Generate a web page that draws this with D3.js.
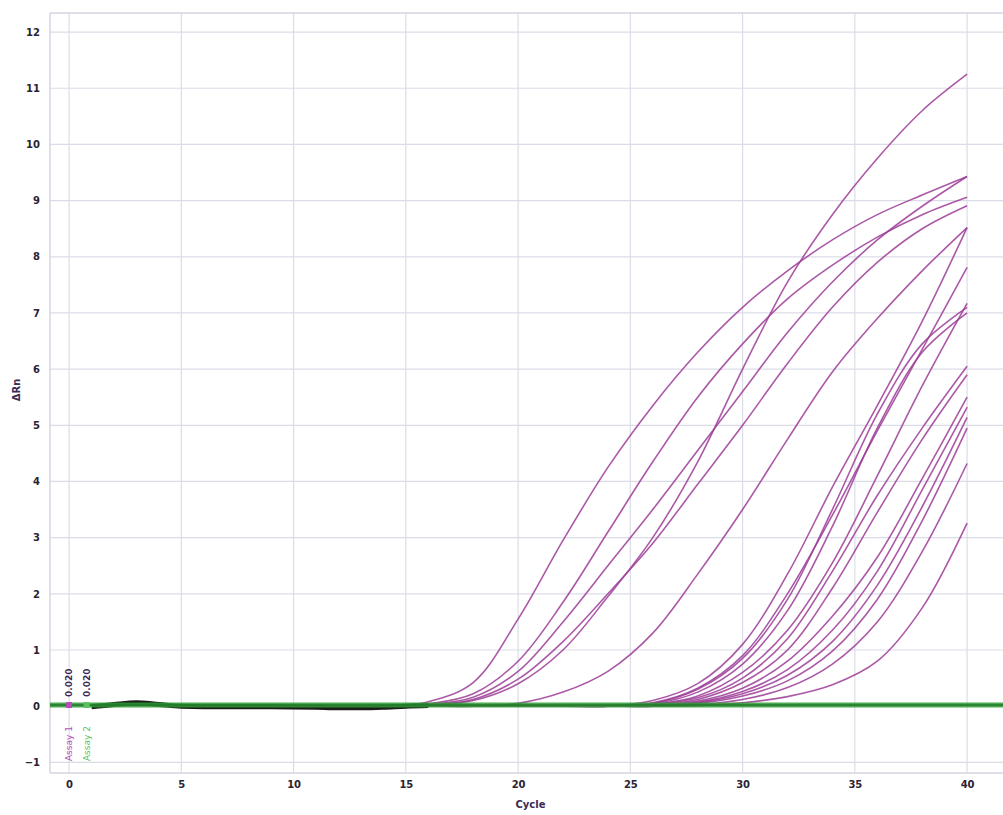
<!DOCTYPE html>
<html>
<head>
<meta charset="utf-8">
<script src="https://cdn.jsdelivr.net/npm/d3@7"></script>
<style>
  body { margin: 0; background: #fff; }
  svg { display: block; }
  .tick text { font-family: "DejaVu Sans", sans-serif; font-size: 10px; font-weight: bold; fill: #2b2233; }
</style>
</head>
<body>
<script>
var rampCycles = [14, 16, 18, 20, 22, 24, 26, 28, 30, 32, 34, 36, 38, 40];

// early risers
var e1  = [0, 0.08, 0.42, 1.55, 2.95, 4.25, 5.35, 6.3, 7.1, 7.75, 8.3, 8.75, 9.1, 9.43];
var e2  = [0, 0.04, 0.22, 0.8, 1.85, 3.1, 4.35, 5.5, 6.45, 7.25, 7.85, 8.35, 8.75, 9.06];
var e3  = [0, 0.03, 0.16, 0.62, 1.5, 2.5, 3.5, 4.55, 5.6, 6.65, 7.55, 8.3, 8.9, 9.43];
var e4  = [0, 0.02, 0.1, 0.4, 1.0, 1.95, 3.0, 4.35, 6.0, 7.55, 8.75, 9.75, 10.6, 11.25];
var e5  = [0, 0.02, 0.12, 0.48, 1.15, 2.0, 2.9, 3.95, 5.0, 6.1, 7.1, 7.9, 8.5, 8.91];
var e6  = [0, 0, 0, 0.05, 0.25, 0.62, 1.3, 2.35, 3.5, 4.75, 5.95, 6.9, 7.75, 8.52];
// late risers
var l1  = [0, 0, 0, 0, 0, 0, 0.1, 0.4, 1.1, 2.35, 3.9, 5.35, 6.85, 8.52];
var l2  = [0, 0, 0, 0, 0, 0, 0.06, 0.32, 0.9, 2.0, 3.4, 4.9, 6.35, 7.81];
var l3  = [0, 0, 0, 0, 0, 0, 0.05, 0.3, 0.85, 1.9, 3.5, 5.2, 6.45, 7.1];
var l4  = [0, 0, 0, 0, 0, 0, 0.04, 0.25, 0.75, 1.7, 3.2, 4.95, 6.3, 7.0];
var l5  = [0, 0, 0, 0, 0, 0, 0.03, 0.18, 0.6, 1.35, 2.55, 4.1, 5.7, 7.17];
var l6  = [0, 0, 0, 0, 0, 0, 0.03, 0.15, 0.5, 1.2, 2.4, 3.75, 4.95, 6.05];
var l7  = [0, 0, 0, 0, 0, 0, 0.02, 0.12, 0.42, 1.0, 2.1, 3.45, 4.75, 5.9];
var l8  = [0, 0, 0, 0, 0, 0, 0.01, 0.09, 0.32, 0.8, 1.6, 2.65, 4.05, 5.5];
var l9  = [0, 0, 0, 0, 0, 0, 0.01, 0.07, 0.26, 0.65, 1.35, 2.4, 3.85, 5.32];
var l10 = [0, 0, 0, 0, 0, 0, 0, 0.06, 0.22, 0.55, 1.15, 2.15, 3.55, 5.14];
var l11 = [0, 0, 0, 0, 0, 0, 0, 0.05, 0.18, 0.45, 0.98, 1.9, 3.3, 4.95];
var l12 = [0, 0, 0, 0, 0, 0, 0, 0.03, 0.12, 0.33, 0.75, 1.5, 2.75, 4.32];
var l13 = [0, 0, 0, 0, 0, 0, 0, 0.01, 0.06, 0.17, 0.38, 0.8, 1.75, 3.26];
var curves = [e1, e2, e3, e4, e5, e6, l1, l2, l3, l4, l5, l6, l7, l8, l9, l10, l11, l12, l13];

// dark baseline trace at the start of the run
var baseCycles = [1, 2, 3, 4, 5, 7, 9, 11, 12, 13, 14, 15, 16];
var baseValues = [-0.01, 0.03, 0.06, 0.03, 0.0, -0.01, -0.01, -0.02, -0.03, -0.03, -0.02, 0.0, 0.01];

var threshold = 0.02;
var xTicks = [0, 5, 10, 15, 20, 25, 30, 35, 40];
var yTicks = [-1, 0, 1, 2, 3, 4, 5, 6, 7, 8, 9, 10, 11, 12];
var markers = [
  {cycle: 0, label: "Assay 1", color: "#b84cb8"},
  {cycle: 0.78, label: "Assay 2", color: "#5cc05c"}
];

var width = 1003, height = 815;
var plotL = 50, plotR = 1003, plotT = 13, plotB = 773;

var x = d3.scaleLinear().domain([-0.85, 41.6]).range([plotL, plotR]);
var y = d3.scaleLinear().domain([-1.19, 12.34]).range([plotB, plotT]);

var svg = d3.select("body").append("svg")
            .attr("width", width)
            .attr("height", height);

// grid
svg.append("g").selectAll("line").data(xTicks).enter().append("line")
   .attr("x1", d => x(d)).attr("x2", d => x(d))
   .attr("y1", plotT).attr("y2", plotB)
   .attr("stroke", "#dcdce8").attr("stroke-width", 1.2);
svg.append("g").selectAll("line").data(yTicks).enter().append("line")
   .attr("x1", plotL).attr("x2", plotR)
   .attr("y1", d => y(d)).attr("y2", d => y(d))
   .attr("stroke", "#dcdce8").attr("stroke-width", 1.2);
// frame
svg.append("line").attr("x1", plotL).attr("x2", plotR).attr("y1", plotT).attr("y2", plotT)
   .attr("stroke", "#d4d4e2").attr("stroke-width", 1.5);
svg.append("line").attr("x1", plotL).attr("x2", plotR).attr("y1", plotB).attr("y2", plotB)
   .attr("stroke", "#d4d4e2").attr("stroke-width", 1.5);
svg.append("line").attr("x1", plotL).attr("x2", plotL).attr("y1", plotT).attr("y2", plotB)
   .attr("stroke", "#d4d4e2").attr("stroke-width", 1.5);

// axes
var xAxis = svg.append("g").attr("transform", "translate(0," + (plotB + 6) + ")")
   .call(d3.axisBottom(x).tickValues(xTicks).tickSize(0).tickPadding(2));
xAxis.select(".domain").remove();
var yAxis = svg.append("g").attr("transform", "translate(" + (plotL - 8) + ",0)")
   .call(d3.axisLeft(y).tickValues(yTicks).tickSize(0).tickPadding(2));
yAxis.select(".domain").remove();

svg.append("text").attr("x", (plotL + plotR) / 2 + 4).attr("y", 808)
   .attr("text-anchor", "middle")
   .style("font-family", "DejaVu Sans, sans-serif").style("font-size", "10px")
   .style("font-weight", "bold").style("fill", "#3a2a55")
   .text("Cycle");
svg.append("text").attr("transform", "translate(20,390) rotate(-90)")
   .attr("text-anchor", "middle")
   .style("font-family", "DejaVu Sans, sans-serif").style("font-size", "10px")
   .style("font-weight", "bold").style("fill", "#3a2a55")
   .text("ΔRn");

var line = d3.line()
   .x((d, i) => x(rampCycles[i]))
   .y(d => y(d))
   .curve(d3.curveCatmullRom.alpha(0.5));

// amplification curves
svg.append("g").selectAll("path").data(curves).enter().append("path")
   .attr("d", line)
   .attr("fill", "none")
   .attr("stroke", "#9c3c96")
   .attr("stroke-opacity", 0.85)
   .attr("stroke-width", 1.6);

var baseLine = d3.line()
   .x((d, i) => x(baseCycles[i]))
   .y(d => y(d))
   .curve(d3.curveMonotoneX);
svg.append("path").datum(baseValues).attr("d", baseLine)
   .attr("fill", "none").attr("stroke", "#1c1c1c").attr("stroke-width", 5);

// threshold
svg.append("line").attr("x1", x(-0.85)).attr("x2", plotR)
   .attr("y1", y(threshold)).attr("y2", y(threshold))
   .attr("stroke", "#2f9a36").attr("stroke-width", 5).attr("stroke-opacity", 0.85);
svg.append("line").attr("x1", x(-0.85)).attr("x2", plotR)
   .attr("y1", y(threshold)).attr("y2", y(threshold))
   .attr("stroke", "#1f7a26").attr("stroke-width", 1.5);

// threshold markers
var mk = svg.append("g").selectAll("g").data(markers).enter().append("g")
   .attr("transform", d => "translate(" + x(d.cycle) + "," + y(threshold) + ")");
mk.append("rect").attr("x", -3).attr("y", -3).attr("width", 6).attr("height", 6)
   .attr("fill", d => d.color);
mk.append("text").attr("transform", "translate(3,-8) rotate(-90)")
   .style("font-family", "DejaVu Sans, sans-serif").style("font-size", "9px")
   .style("font-weight", "bold").style("fill", "#3a2a55")
   .text(threshold.toFixed(3));
mk.append("text").attr("transform", "translate(3,56) rotate(-90)")
   .style("font-family", "DejaVu Sans, sans-serif").style("font-size", "9px")
   .style("fill", d => d.color)
   .text(d => d.label);
</script>
</body>
</html>
